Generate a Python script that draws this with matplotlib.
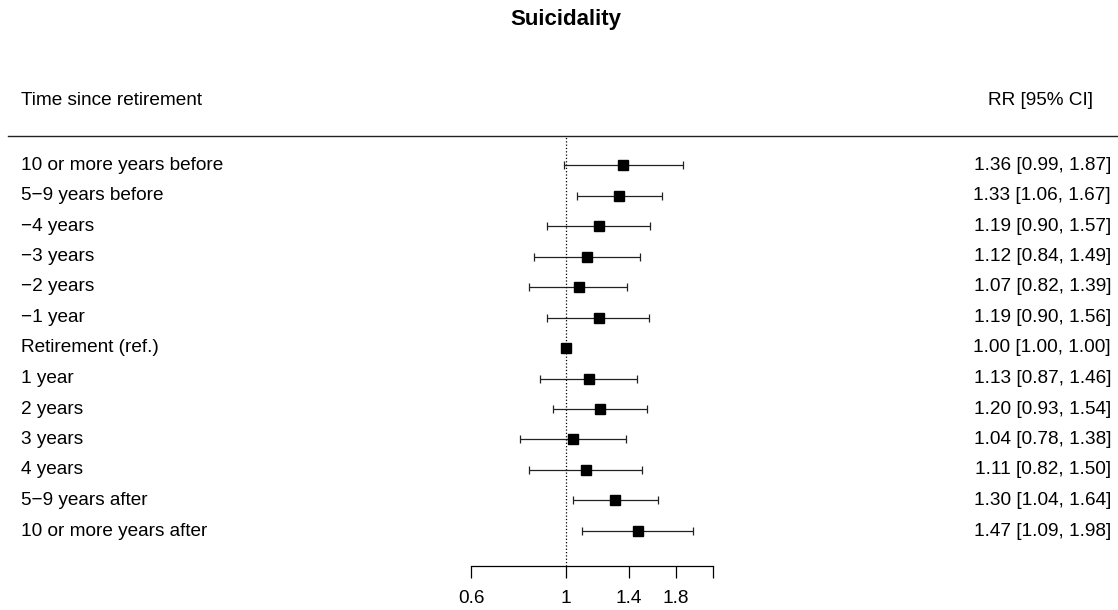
import numpy as np
import matplotlib.pyplot as plt
from matplotlib.lines import Line2D

# Data
labels = ["10 or more years before", "5\u22129 years before", "\u22124 years", "\u22123 years",
          "\u22122 years", "\u22121 year", "Retirement (ref.)", "1 year", "2 years",
          "3 years", "4 years", "5\u22129 years after", "10 or more years after"]
rr = [1.36, 1.33, 1.19, 1.12, 1.07, 1.19, 1.00, 1.13, 1.20, 1.04, 1.11, 1.30, 1.47]
ci_low = [0.99, 1.06, 0.90, 0.84, 0.82, 0.90, 1.00, 0.87, 0.93, 0.78, 0.82, 1.04, 1.09]
ci_high = [1.87, 1.67, 1.57, 1.49, 1.39, 1.56, 1.00, 1.46, 1.54, 1.38, 1.50, 1.64, 1.98]
xticks = [0.6, 1, 1.4, 1.8, 2.2]
xtick_labels = ["0.6", "1", "1.4", "1.8", ""]

plt.rcParams['font.family'] = ['Liberation Sans', 'DejaVu Sans']

W, H = 1118, 610
fig = plt.figure(figsize=(W / 100, H / 100), dpi=100)

# plot region in pixels
x0, x1 = 471, 713
y_top, y_bot = 136, 566
row1_px, rowN_px = 165, 531
ax = fig.add_axes([x0 / W, 1 - y_bot / H, (x1 - x0) / W, (y_bot - y_top) / H])

rows = np.arange(1, len(labels) + 1)
rr = np.array(rr)
lo = np.array(ci_low)
hi = np.array(ci_high)

ax.errorbar(rr, rows, xerr=[rr - lo, hi - rr], fmt='none', ecolor='#222222',
            elinewidth=0.9, capsize=2.6, capthick=0.9)
ax.plot(rr, rows, 's', color='black', markersize=7)
ax.axvline(1, color='black', linestyle=':', linewidth=0.9)

ax.set_xscale('log')
ax.set_xlim(0.6, 2.2)
row_px = (rowN_px - row1_px) / 12
ax.set_ylim(13 + (y_bot - rowN_px) / row_px, 1 - (row1_px - y_top) / row_px)
ax.set_xticks(xticks)
ax.set_xticklabels(xtick_labels)
ax.xaxis.set_minor_locator(plt.NullLocator())
ax.tick_params(axis='x', length=8.5, width=0.9, labelsize=13.7, pad=9)
ax.set_yticks([])
for s in ['top', 'left', 'right']:
    ax.spines[s].set_visible(False)
ax.spines['bottom'].set_linewidth(0.9)

# text columns
fs = 13.7
for i, lab in enumerate(labels):
    y = 1 - (row1_px + i * row_px) / H
    fig.text(21 / W, y, lab, ha='left', va='center', fontsize=fs)
    txt = f"{rr[i]:.2f} [{lo[i]:.2f}, {hi[i]:.2f}]"
    fig.text(1111 / W, y, txt, ha='right', va='center', fontsize=fs)

fig.text(21 / W, 1 - 101 / H, "Time since retirement", ha='left', va='center', fontsize=fs)
fig.text(1093 / W, 1 - 101 / H, "RR [95% CI]", ha='right', va='center', fontsize=fs)
fig.text(566 / W, 1 - 20 / H, "Suicidality", ha='center', va='center', fontsize=16,
         fontweight='bold')

fig.add_artist(Line2D([8 / W, 1.0], [1 - y_top / H, 1 - y_top / H],
                      transform=fig.transFigure, color='#222222', linewidth=1.0))

fig.savefig("out.png", dpi=100)
